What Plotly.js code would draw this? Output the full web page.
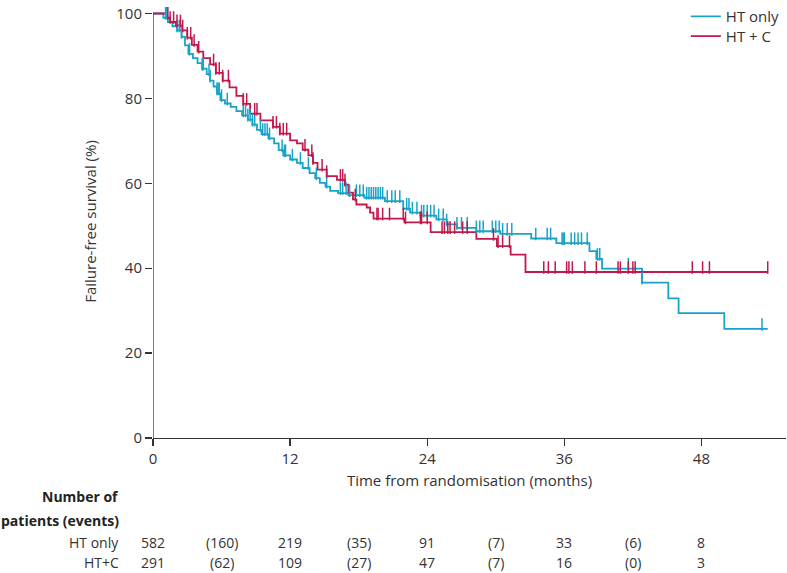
<!DOCTYPE html>
<html>
<head>
<meta charset="utf-8">
<script src="https://cdn.plot.ly/plotly-3.0.1.min.js"></script>
<style>html,body{margin:0;padding:0;background:#fff;}#chart{width:787px;height:573px;}</style>
</head>
<body>
<div id="chart"></div>
<script>
// ---- Data ----
const htOnlyTimes = [0, 0.9, 1.3, 1.7, 2.1, 2.5, 2.8, 3.1, 3.5, 3.9, 4.3, 4.7, 5.0, 5.3, 5.6, 5.9, 6.3, 6.8, 7.3, 7.8, 8.3, 8.7, 9.1, 9.5, 10.1, 10.6, 11.0, 11.4, 12.0, 12.6, 13.1, 13.7, 14.2, 14.6, 15.1, 15.5, 16.2, 17.1, 18.5, 20.3, 21.9, 22.5, 23.4, 24.8, 25.7, 26.6, 28.3, 30.4, 33.1, 35.3, 38.2, 38.8, 39.3, 42.8, 45.1, 46.0, 50.0, 53.8];
const htOnlySurv = [100, 99, 98, 97, 96, 94.5, 92.5, 90.5, 89.5, 88.3, 87, 85.7, 84.2, 82.8, 81.2, 79.6, 78.8, 78, 77, 76, 75, 73.8, 72.6, 71.6, 70.6, 69.4, 67.8, 66.6, 65.6, 64.8, 63.6, 62.4, 61.2, 60.1, 59.2, 58.2, 57.7, 57.2, 56.6, 55.8, 54.0, 53.1, 52.4, 51.5, 50.3, 49.5, 48.7, 48.1, 47.0, 45.9, 44.0, 42.2, 39.9, 36.6, 32.9, 29.4, 25.7, 25.7];
const htOnlyCensor = [1.1, 1.2, 2.1, 2.3, 2.5, 3.2, 4.3, 4.4, 4.9, 5.0, 5.6, 5.7, 5.8, 6.0, 6.5, 7.9, 8.1, 8.3, 8.5, 8.7, 8.9, 9.4, 9.6, 9.8, 10.0, 10.2, 11.3, 11.5, 11.6, 12.2, 12.9, 13.6, 14.3, 15.2, 16.4, 16.6, 16.9, 17.2, 17.8, 18.1, 18.4, 18.7, 18.9, 19.1, 19.3, 19.5, 19.7, 19.9, 20.1, 20.5, 20.9, 21.2, 21.6, 22.2, 22.4, 22.7, 23.1, 23.5, 23.7, 24.0, 24.3, 24.6, 25.0, 25.4, 25.7, 26.6, 27.0, 27.5, 28.3, 28.6, 28.9, 29.7, 30.0, 30.3, 30.6, 31.0, 31.4, 33.5, 34.5, 34.8, 35.8, 35.9, 36.0, 36.6, 36.9, 37.2, 37.5, 38.0, 38.9, 39.1, 41.6, 42.8, 53.3];

const htcTimes = [0, 1.2, 1.5, 2.0, 2.5, 3.0, 3.4, 3.9, 4.4, 5.0, 5.5, 6.1, 6.7, 7.3, 7.9, 8.5, 9.4, 10.5, 11.1, 12.0, 12.6, 13.1, 13.6, 14.0, 14.4, 15.2, 16.1, 16.8, 17.1, 17.5, 17.8, 18.7, 19.0, 19.3, 22.0, 24.3, 28.3, 30.1, 31.3, 32.6, 53.8];
const htcSurv = [100, 99, 98, 97.2, 96, 94.3, 92.6, 91, 89.5, 88, 86, 84.2, 82.6, 80.6, 78.7, 76.4, 74.8, 73.3, 71.7, 70.1, 69.4, 67.9, 66.6, 64.8, 63.2, 61.7, 60.8, 59.7, 57.8, 56.2, 55.0, 54.3, 53.1, 51.7, 50.8, 48.5, 46.9, 45.2, 43.2, 39.1, 39.1];
const htcCensor = [1.3, 1.5, 1.8, 2.1, 2.4, 2.6, 3.0, 3.3, 3.6, 4.0, 5.3, 5.5, 5.8, 6.1, 6.6, 7.9, 8.2, 8.9, 9.1, 10.5, 10.8, 11.1, 11.4, 11.7, 13.3, 13.9, 14.0, 14.8, 15.2, 16.4, 16.6, 16.8, 17.7, 19.6, 19.7, 20.1, 20.7, 21.9, 22.1, 23.4, 23.5, 24.0, 25.3, 25.5, 25.8, 26.0, 26.4, 27.1, 27.5, 29.8, 30.2, 30.6, 31.2, 34.2, 34.6, 35.2, 36.2, 36.4, 36.7, 37.8, 38.8, 40.7, 40.9, 41.6, 42.0, 42.2, 47.2, 48.1, 48.7, 53.8];

const riskTimes = [0, 6, 12, 18, 24, 30, 36, 42, 48];
const riskHtOnly = ['582', '(160)', '219', '(35)', '91', '(7)', '33', '(6)', '8'];
const riskHtc = ['291', '(62)', '109', '(27)', '47', '(7)', '16', '(0)', '3'];
const seriesNames = ['HT only', 'HT + C'];
const rowNames = ['HT only', 'HT+C'];
const xTicks = [0, 12, 24, 36, 48];
const yTicks = [0, 20, 40, 60, 80, 100];

// ---- Styling ----
const TEAL = '#1aa3c8';
const RED = '#c2184c';
const FONT = 'Open Sans, DejaVu Sans, sans-serif';
const TXT = '#333333';

function stepAt(times, surv, t) {
  let v = surv[0];
  for (let i = 0; i < times.length; i++) { if (times[i] <= t) v = surv[i]; else break; }
  return v;
}
const TICK_UP = 1.05; // censor tick rises above curve (in % units)

const traces = [
  {x: htOnlyTimes, y: htOnlySurv, type: 'scatter', mode: 'lines', line: {shape: 'hv', color: TEAL, width: 1.8}, name: seriesNames[0], legend: 'legend'},
  {x: htcTimes, y: htcSurv, type: 'scatter', mode: 'lines', line: {shape: 'hv', color: RED, width: 1.8}, name: seriesNames[1], legend: 'legend2'},
  {x: htOnlyCensor, y: htOnlyCensor.map(t => stepAt(htOnlyTimes, htOnlySurv, t) + TICK_UP), type: 'scatter', mode: 'markers',
   marker: {symbol: 'line-ns-open', size: 9, color: TEAL, line: {color: TEAL, width: 1.5}}, showlegend: false, hoverinfo: 'skip'},
  {x: htcCensor, y: htcCensor.map(t => stepAt(htcTimes, htcSurv, t) + TICK_UP), type: 'scatter', mode: 'markers',
   marker: {symbol: 'line-ns-open', size: 9, color: RED, line: {color: RED, width: 1.5}}, showlegend: false, hoverinfo: 'skip'}
];

const annotations = [];
function rowAnn(text, yPix, bold) {
  annotations.push({xref: 'x', yref: 'y', x: 0, y: 0, xanchor: 'right', yanchor: 'middle', xshift: -32, yshift: -(yPix - 438.5),
    text: bold ? '<b>' + text + '</b>' : text, showarrow: false, font: {family: FONT, size: 14, color: bold ? '#222' : TXT}});
}
rowAnn('Number of', 497, true);
rowAnn('patients (events)', 521, true);
rowAnn(rowNames[0], 543, false);
rowAnn(rowNames[1], 563, false);
riskTimes.forEach((t, i) => {
  annotations.push({xref: 'x', yref: 'y', x: t, y: 0, xanchor: 'center', yanchor: 'middle', yshift: -(543 - 438.5),
    text: riskHtOnly[i], showarrow: false, font: {family: FONT, size: 14, color: TXT}});
  annotations.push({xref: 'x', yref: 'y', x: t, y: 0, xanchor: 'center', yanchor: 'middle', yshift: -(563 - 438.5),
    text: riskHtc[i], showarrow: false, font: {family: FONT, size: 14, color: TXT}});
});

const legendBase = {xanchor: 'left', yanchor: 'top', font: {family: FONT, size: 15, color: TXT}, bgcolor: 'rgba(0,0,0,0)'};

const layout = {
  width: 787, height: 573,
  margin: {l: 153, r: 1, t: 0, b: 134.5},
  paper_bgcolor: '#fff', plot_bgcolor: '#fff',
  font: {family: FONT, size: 14, color: TXT},
  showlegend: true,
  legend: Object.assign({x: 0.8418, y: 1.0114}, legendBase),
  legend2: Object.assign({x: 0.8418, y: 0.9658}, legendBase),
  xaxis: {range: [0, 55.4], tickvals: xTicks, ticktext: xTicks.map(String), ticks: 'outside', ticklen: 7, tickwidth: 1.3, tickcolor: '#333',
    showline: true, linecolor: '#333', linewidth: 1.3, showgrid: false, zeroline: false, fixedrange: true,
    tickfont: {family: FONT, size: 15, color: TXT},
    title: {text: 'Time from randomisation (months)', font: {family: FONT, size: 15, color: TXT}, standoff: 8}},
  yaxis: {range: [0, 102], tickvals: yTicks, ticktext: yTicks.map(String), ticks: 'outside', ticklen: 7, tickwidth: 1.3, tickcolor: '#333',
    showline: false, showgrid: false, zeroline: false, fixedrange: true, ticklabeloverflow: 'allow',
    tickfont: {family: FONT, size: 15, color: TXT},
    title: {text: 'Failure-free survival (%)', font: {family: FONT, size: 15, color: TXT}, standoff: 16}},
  shapes: [{type: 'line', xref: 'x', yref: 'y', x0: 0, x1: 0, y0: 0, y1: 100, line: {color: '#333', width: 1.3}}],
  annotations: annotations
};

Plotly.newPlot('chart', traces, layout, {displayModeBar: false, staticPlot: true});
</script>
</body>
</html>
